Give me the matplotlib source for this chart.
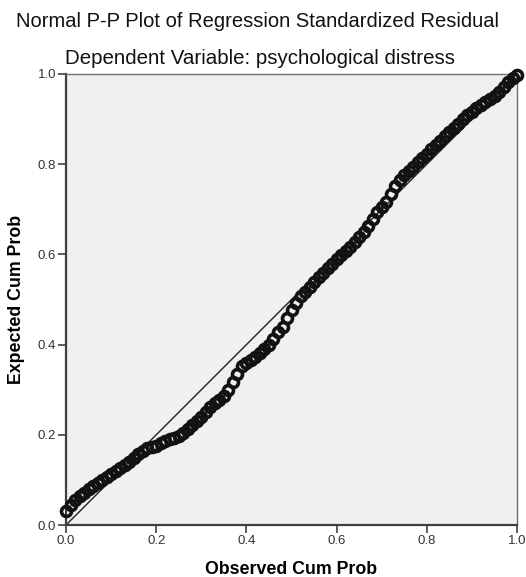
import matplotlib.pyplot as plt

# observed cumulative probability (x) and expected cumulative probability (y)
observed = [0.00, 0.01, 0.02, 0.03, 0.04, 0.05, 0.06, 0.07, 0.08, 0.09,
            0.10, 0.11, 0.12, 0.13, 0.14, 0.15, 0.16, 0.17, 0.18, 0.19,
            0.20, 0.21, 0.22, 0.23, 0.24, 0.25, 0.26, 0.27, 0.28, 0.29,
            0.30, 0.31, 0.32, 0.33, 0.34, 0.35, 0.36, 0.37, 0.38, 0.39,
            0.40, 0.41, 0.42, 0.43, 0.44, 0.45, 0.46, 0.47, 0.48, 0.49,
            0.50, 0.51, 0.52, 0.53, 0.54, 0.55, 0.56, 0.57, 0.58, 0.59,
            0.60, 0.61, 0.62, 0.63, 0.64, 0.65, 0.66, 0.67, 0.68, 0.69,
            0.70, 0.71, 0.72, 0.73, 0.74, 0.75, 0.76, 0.77, 0.78, 0.79,
            0.80, 0.81, 0.82, 0.83, 0.84, 0.85, 0.86, 0.87, 0.88, 0.89,
            0.90, 0.91, 0.92, 0.93, 0.94, 0.95, 0.96, 0.97, 0.98, 0.99,
            1.00]
expected = [0.030, 0.044, 0.056, 0.064, 0.072, 0.080, 0.087, 0.094, 0.100, 0.107,
            0.114, 0.120, 0.127, 0.134, 0.140, 0.149, 0.158, 0.165, 0.170, 0.173,
            0.176, 0.181, 0.186, 0.190, 0.194, 0.198, 0.204, 0.212, 0.222, 0.231,
            0.240, 0.251, 0.262, 0.270, 0.278, 0.286, 0.300, 0.316, 0.335, 0.352,
            0.360, 0.366, 0.372, 0.381, 0.391, 0.400, 0.413, 0.427, 0.440, 0.458,
            0.476, 0.493, 0.507, 0.517, 0.528, 0.539, 0.549, 0.559, 0.569, 0.579,
            0.589, 0.598, 0.608, 0.617, 0.627, 0.638, 0.650, 0.662, 0.678, 0.693,
            0.705, 0.716, 0.733, 0.751, 0.766, 0.775, 0.784, 0.794, 0.804, 0.814,
            0.823, 0.833, 0.842, 0.852, 0.862, 0.871, 0.881, 0.890, 0.900, 0.909,
            0.916, 0.924, 0.931, 0.938, 0.945, 0.952, 0.960, 0.971, 0.982, 0.992,
            0.998]
ticks = [0.0, 0.2, 0.4, 0.6, 0.8, 1.0]
tick_labels = ['0.0', '0.2', '0.4', '0.6', '0.8', '1.0']

plt.rcParams['font.family'] = ['Liberation Sans', 'DejaVu Sans']

fig = plt.figure(figsize=(5.26, 5.77), dpi=100)
ax = fig.add_axes([0.1255, 0.0901, 0.8575, 0.7817])
ax.set_facecolor('#f0f0f0')

ax.plot([0, 1], [0, 1], color='#202020', linewidth=1.0, zorder=2)
ax.plot(observed, expected, linestyle='none', marker='o', markersize=7.2,
        markerfacecolor='none', markeredgecolor='#121212', markeredgewidth=2.6,
        zorder=3, clip_on=False)

ax.set_xlim(0, 1)
ax.set_ylim(0, 1)
ax.set_xticks(ticks)
ax.set_xticklabels(tick_labels)
ax.set_yticks(ticks)
ax.set_yticklabels(tick_labels)
ax.tick_params(direction='out', length=6, width=1.2, color='#404040',
               labelsize=9.5, labelcolor='#333333', pad=1)

for side in ['left', 'bottom']:
    ax.spines[side].set_color('#404040')
    ax.spines[side].set_linewidth(1.6)
for side in ['top', 'right']:
    ax.spines[side].set_color('#707070')
    ax.spines[side].set_linewidth(1.0)

ax.set_xlabel('Observed Cum Prob', fontsize=12.8, fontweight='bold', labelpad=10)
ax.set_ylabel('Expected Cum Prob', fontsize=12.8, fontweight='bold', labelpad=9)

fig.text(0.49, 0.962, 'Normal P-P Plot of Regression Standardized Residual',
         ha='center', va='center', fontsize=14.5, color='#111111')
fig.text(0.494, 0.899, 'Dependent Variable: psychological distress',
         ha='center', va='center', fontsize=14.8, color='#111111')

fig.savefig('out.png', dpi=100)
